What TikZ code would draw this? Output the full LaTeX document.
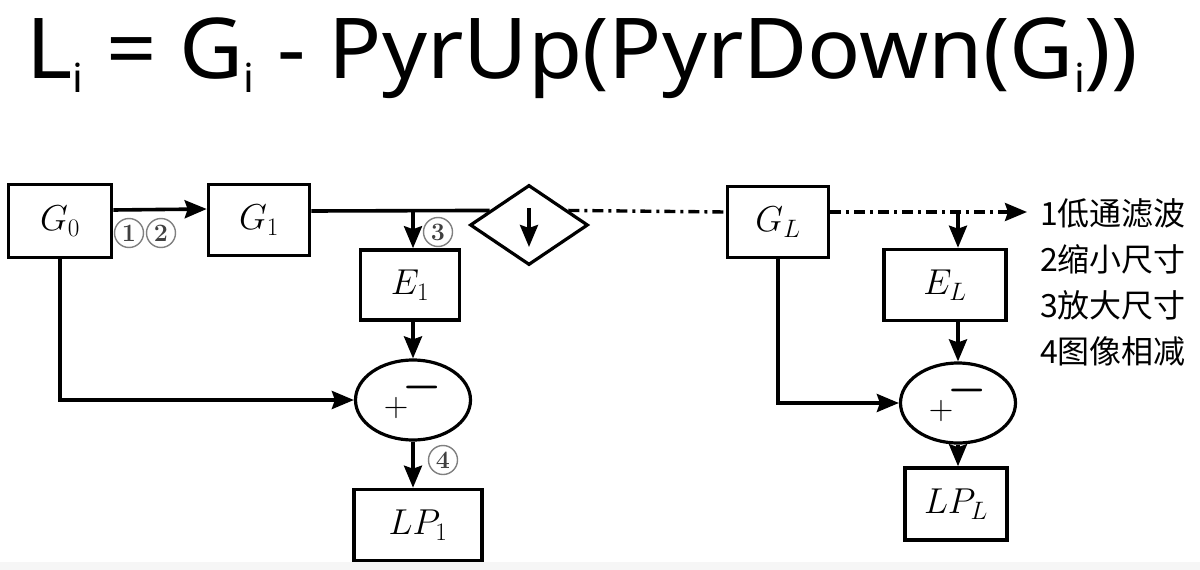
\RequirePackage{fix-cm}
\documentclass[tikz,border=0pt]{standalone}
\usepackage{fontspec}
\usepackage{amsmath}
\newfontfamily\titlefont{Noto Sans}
\newfontfamily\cjkfont{Noto Sans CJK SC}
\usetikzlibrary{shapes.geometric,calc,arrows.meta}
\newcommand{\lowi}{\raisebox{-14pt}{\fontsize{40}{40}\selectfont i}}

\begin{document}
\begin{tikzpicture}[x=1pt,y=-1pt,>={Stealth[length=22pt,width=18pt,inset=3pt]},
	box/.style={draw,line width=3.6pt,inner sep=0pt,font=\fontsize{36}{40}\selectfont},
	sumnode/.style={ellipse,draw,line width=3.2pt,minimum width=115pt,minimum height=80pt,inner sep=0pt},
	num/.style={circle,draw=gray,line width=1.4pt,inner sep=0pt,minimum size=29pt,text=black!75,font=\fontsize{25}{25}\selectfont\bfseries},
	link/.style={line width=3.6pt},
	dashdot/.style={line width=3.4pt,dash pattern=on 11pt off 5pt on 3pt off 5pt},
	legend/.style={font=\cjkfont\fontsize{32}{32}\selectfont,inner sep=0pt}]

			\useasboundingbox (0,0) rectangle (1200,570);
			\fill[gray!7] (0,562) rectangle (1200,570);

			\node[anchor=base west,inner sep=0pt,font=\titlefont\fontsize{84}{84}\selectfont] (formula) at (26,78)
				{\scalebox{1.05}[1]{L\lowi\ = G\lowi\ - PyrUp(PyrDown(G\lowi))}};

			\node[box,minimum width=103pt,minimum height=73pt] (G0) at (60,221) {$G_0$};
			\node[box,minimum width=101pt,minimum height=71pt] (G1) at (259,220) {$G_1$};
			\node[diamond,draw,line width=3.2pt,minimum width=118pt,minimum height=80pt,inner sep=0pt] (dn) at (529,225) {};
			\node[box,minimum width=101pt,minimum height=71pt] (GL) at (778,222) {$G_L$};

			\node[box,minimum width=99pt,minimum height=70pt] (E1) at (410,285) {$E_1$};
			\node[box,minimum width=122pt,minimum height=71pt] (EL) at (945,285) {$E_L$};

			\node[sumnode] (S1) at (413,400) {};
			\node[sumnode] (S2) at (958,403) {};
			\foreach \s in {S1,S2} {
					\node[font=\fontsize{34}{34}\selectfont] (plus\s) at ([xshift=-17pt,yshift=-8pt]\s.center) {$+$};
					\node[font=\fontsize{44}{44}\selectfont] (minus\s) at ([xshift=9pt,yshift=13pt]\s.center) {$\boldsymbol{-}$};
				}

			\node[box,minimum width=128pt,minimum height=71pt] (LP1) at (418,525) {$LP_1$};
			\node[box,minimum width=102pt,minimum height=72pt] (LPL) at (956,504) {$LP_L$};

			\node[num] (n1) at (129,233) {1};
			\node[num] (n2) at (161,233) {2};
			\node[num] (n3) at (438,232) {3};
			\node[num] (n4) at (443,460) {4};

			\coordinate (t1) at ([yshift=9pt]G1.east);
			\coordinate (tip) at (1027,212);

			\draw[link,->] ([yshift=11pt]G0.east) -- ([yshift=11pt]G1.west);
			\draw[link] (t1) -- ($(dn.west)!0.35!(dn.north)$);
			\draw[link,->] (S1 |- t1) -- (S1 |- E1.north);
			\draw[link,->] ([yshift=17pt]dn.center) -- ([yshift=-22pt]dn.center);
			\draw[dashdot] ($(dn.east)!0.35!(dn.north)$) -- ([yshift=10pt]GL.west);
			\draw[dashdot,->] ([yshift=10pt]GL.east) -- (tip);
			\draw[link,->] (S2 |- tip) -- (S2 |- EL.north);

			\draw[link,->] (S1 |- E1.south) -- (S1.north);
			\draw[link,->] (S1.south) -- (S1 |- LP1.north);
			\draw[link,->] (G0.south) |- (S1.west);

			\draw[link,->] (S2 |- EL.south) -- (S2.north);
			\draw[link,->] (S2.south) -- (S2 |- LPL.north);
			\draw[link,->] (GL.south) |- (S2.west);

			\foreach \t [count=\i] in {低通滤波,缩小尺寸,放大尺寸,图像相减} {
					\node[legend,anchor=west] (leg\i) at (1040,167+46*\i) {\i\t};
				}
		\end{tikzpicture}
\end{document}
